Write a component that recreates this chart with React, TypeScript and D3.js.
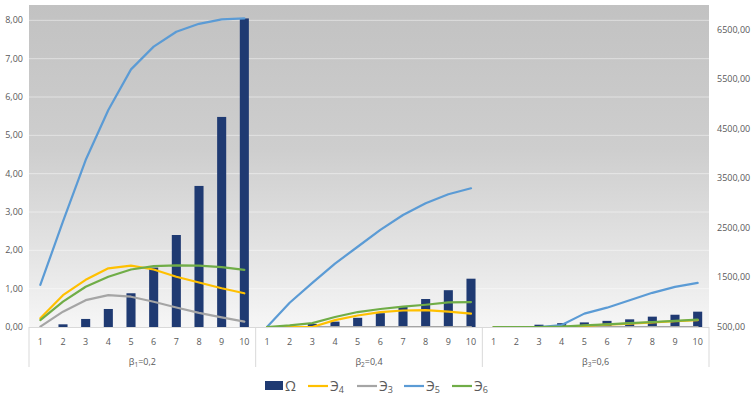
import React from "react";
import * as d3 from "d3";

const groupMain = ["β", "β", "β"];
const groupSub = ["1", "2", "3"];
const groupRest = ["=0,2", "=0,4", "=0,6"];
const cats = ["1", "2", "3", "4", "5", "6", "7", "8", "9", "10"];

// Left axis series
const omega = [
  [0, 0.07, 0.21, 0.47, 0.88, 1.55, 2.4, 3.68, 5.48, 8.05],
  [0, 0.02, 0.08, 0.14, 0.24, 0.36, 0.53, 0.73, 0.96, 1.26],
  [0, 0.02, 0.06, 0.1, 0.12, 0.16, 0.2, 0.27, 0.32, 0.4],
];
const e4 = [
  [0.23, 0.83, 1.23, 1.53, 1.6, 1.5, 1.31, 1.16, 1.01, 0.88],
  [0, 0, 0, 0.18, 0.3, 0.39, 0.43, 0.44, 0.4, 0.35],
  [0, 0, 0, 0, 0.03, 0.06, 0.09, 0.12, 0.15, 0.18],
];
const e3 = [
  [0.01, 0.4, 0.7, 0.83, 0.79, 0.66, 0.51, 0.37, 0.25, 0.14],
  [0, 0, 0, 0, 0, 0, 0, 0, 0, 0],
  [0, 0, 0, 0, 0, 0, 0, 0, 0, 0],
];
const e6 = [
  [0.18, 0.66, 1.05, 1.31, 1.5, 1.59, 1.61, 1.6, 1.56, 1.49],
  [0, 0.04, 0.1, 0.26, 0.39, 0.47, 0.53, 0.58, 0.64, 0.65],
  [0, 0, 0, 0.01, 0.04, 0.07, 0.1, 0.13, 0.16, 0.19],
];
// Right axis series
const e5 = [
  [1350, 2630, 3870, 4880, 5700, 6160, 6460, 6620, 6710, 6730],
  [500, 990, 1390, 1780, 2120, 2460, 2760, 3000, 3180, 3300],
  [500, 500, 500, 540, 770, 890, 1040, 1190, 1310, 1390],
];

const leftTicks = [0, 1, 2, 3, 4, 5, 6, 7, 8];
const rightTicks = [500, 1500, 2500, 3500, 4500, 5500, 6500];

const C_OMEGA = "#1f3a72";
const C_E4 = "#ffc000";
const C_E3 = "#a5a5a5";
const C_E5 = "#5b9bd5";
const C_E6 = "#70ad47";

const fmt = (v: number) => v.toFixed(2).replace(".", ",");

export default function App() {
  const W = 751, H = 398;
  const x0 = 29, x1 = 709, yTop = 5, yBot = 327;
  const gScale = d3.scaleBand<number>().domain([0, 1, 2]).range([x0, x1]).paddingInner(0).paddingOuter(0);
  const catScale = d3.scaleBand<string>().domain(cats).range([0, gScale.bandwidth()]).paddingInner(0.6).paddingOuter(0.3);
  const catPoint = (g: number, i: number) => (gScale(g) as number) + (catScale(cats[i]) as number) + catScale.bandwidth() / 2;
  const yL = d3.scaleLinear().domain([0, 8.4]).range([yBot, yTop]);
  const yR = d3.scaleLinear().domain([500, 7000]).range([yBot, yTop]);

  const lineL = (arr: number[], g: number) =>
    d3.line<number>().x((_, i) => catPoint(g, i)).y((d) => yL(d))(arr) || "";
  const lineR = (arr: number[], g: number) =>
    d3.line<number>().x((_, i) => catPoint(g, i)).y((d) => yR(d))(arr) || "";

  const font = "'Open Sans', 'Liberation Sans', sans-serif";
  const txt = "#595959";

  const legendItems = [
    { key: "Ω", sub: "", color: C_OMEGA, rect: true, x: 265 },
    { key: "Э", sub: "4", color: C_E4, rect: false, x: 308 },
    { key: "Э", sub: "3", color: C_E3, rect: false, x: 357 },
    { key: "Э", sub: "5", color: C_E5, rect: false, x: 404 },
    { key: "Э", sub: "6", color: C_E6, rect: false, x: 452 },
  ];

  return (
    <svg width={W} height={H} style={{ position: "absolute", left: 0, top: 0, background: "#fff" }} fontFamily={font}>
      <defs>
        <linearGradient id="bg" x1="0" y1="0" x2="0" y2="1">
          <stop offset="0" stopColor="#c2c2c2" />
          <stop offset="0.45" stopColor="#cecece" />
          <stop offset="0.8" stopColor="#e6e6e6" />
          <stop offset="1" stopColor="#f6f6f6" />
        </linearGradient>
      </defs>
      <rect x={x0} y={yTop} width={x1 - x0} height={yBot - yTop} fill="url(#bg)" />
      {leftTicks.slice(1).map((t) => (
        <line key={t} x1={x0} x2={x1} y1={yL(t)} y2={yL(t)} stroke="#ffffff" strokeOpacity={0.45} strokeWidth={1} />
      ))}
      {/* bars */}
      {omega.map((arr, g) =>
        arr.map((v, i) => (
          <rect key={`b${g}-${i}`} x={(gScale(g) as number) + (catScale(cats[i]) as number)} width={catScale.bandwidth()}
            y={yL(v)} height={yBot - yL(v)} fill={C_OMEGA} />
        ))
      )}
      {/* lines */}
      {[0, 1, 2].map((g) => (
        <g key={`l${g}`} fill="none" strokeWidth={2.2} strokeLinejoin="round" strokeLinecap="round">
          <path d={lineR(e5[g], g)} stroke={C_E5} />
          <path d={lineL(e3[g], g)} stroke={C_E3} />
          <path d={lineL(e4[g], g)} stroke={C_E4} />
          <path d={lineL(e6[g], g)} stroke={C_E6} />
        </g>
      ))}
      {/* x axis */}
      <line x1={x0} x2={x1} y1={yBot + 0.5} y2={yBot + 0.5} stroke="#d9d9d9" />
      {[0, 1, 2, 3].map((k) => {
        const xx = k < 3 ? (gScale(k) as number) : x1;
        return <line key={`s${k}`} x1={xx} x2={xx} y1={yBot} y2={367} stroke="#d9d9d9" />;
      })}
      {[0, 1, 2].map((g) =>
        cats.map((c, i) => (
          <text key={`t${g}-${i}`} x={catPoint(g, i)} y={345} textAnchor="middle" fontSize={9} fill={txt}>{c}</text>
        ))
      )}
      {groupMain.map((_, g) => (
        <text key={`g${g}`} x={(gScale(g) as number) + gScale.bandwidth() / 2} y={365} textAnchor="middle" fontSize={9} fill={txt}>
          {groupMain[g]}<tspan fontSize={6.5} dy={2}>{groupSub[g]}</tspan><tspan dy={-2}>{groupRest[g]}</tspan>
        </text>
      ))}
      {/* left axis labels */}
      {leftTicks.map((t) => (
        <text key={`yl${t}`} x={23} y={yL(t) + 3} textAnchor="end" fontSize={9} fill={txt}>{fmt(t)}</text>
      ))}
      {rightTicks.map((t) => (
        <text key={`yr${t}`} x={717} y={yR(t) + 3} textAnchor="start" fontSize={9} fill={txt}>{fmt(t)}</text>
      ))}
      {/* legend */}
      {legendItems.map((it, k) => (
        <g key={`lg${k}`}>
          {it.rect ? (
            <rect x={it.x} y={381} width={18} height={9} fill={it.color} />
          ) : (
            <line x1={it.x} x2={it.x + 20} y1={386} y2={386} stroke={it.color} strokeWidth={2.2} />
          )}
          <text x={it.x + (it.rect ? 20 : 22)} y={391} fontSize={14} fill={txt}>
            {it.key}{it.sub ? <tspan fontSize={9} dy={2}>{it.sub}</tspan> : null}
          </text>
        </g>
      ))}
    </svg>
  );
}
